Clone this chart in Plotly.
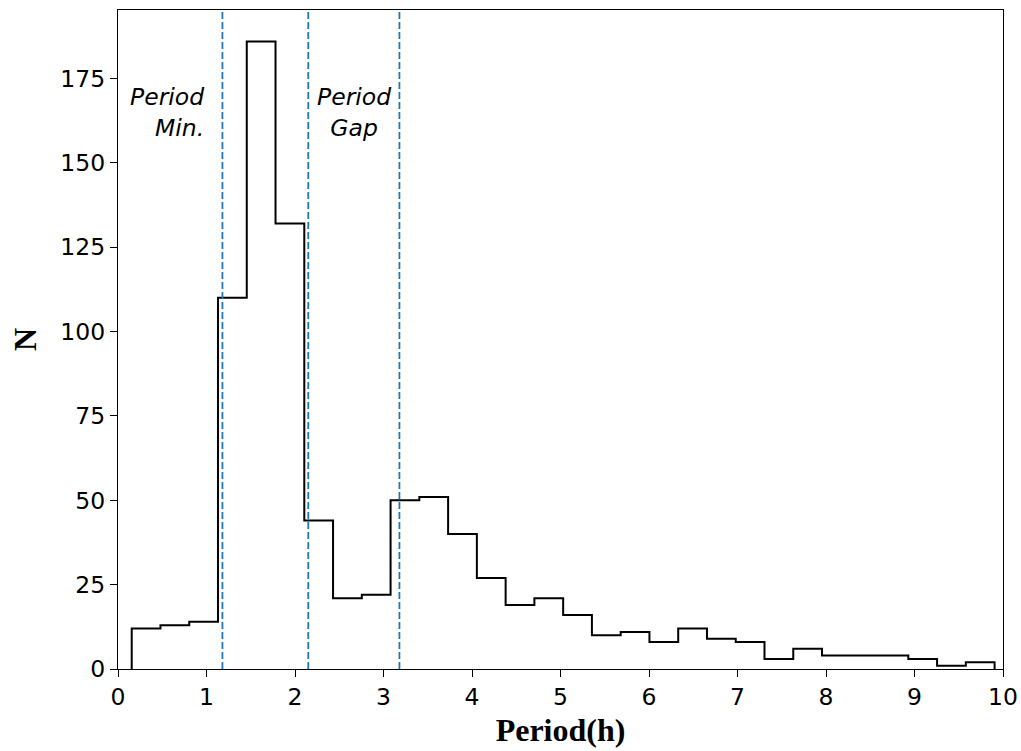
import plotly.graph_objects as go

# Orbital period histogram: 30 equal-width bins
bin_start = 0.155
bin_width = 0.325
counts = [12, 13, 14, 110, 186, 132, 44, 21, 22, 50,
          51, 40, 27, 19, 21, 16, 10, 11, 8, 12,
          9, 8, 3, 6, 4, 4, 4, 3, 1, 2]

# Reference periods marked with dashed lines (hours)
period_min = 1.18
gap_lower = 2.15
gap_upper = 3.18

x_ticks = list(range(0, 11))
y_ticks = [0, 25, 50, 75, 100, 125, 150, 175]

edges = [bin_start + i * bin_width for i in range(len(counts) + 1)]

# Step outline: rise at first edge, follow counts, drop at last edge
step_x = [edges[0]] + edges[:-1] + [edges[-1], edges[-1]]
step_y = [0] + counts + [counts[-1], 0]

fig = go.Figure()
fig.add_trace(go.Scatter(
    x=step_x, y=step_y, mode="lines", line_shape="hv",
    line=dict(color="black", width=2), showlegend=False, hoverinfo="skip",
))

for xv in (period_min, gap_lower, gap_upper):
    fig.add_shape(type="line", x0=xv, x1=xv, y0=0, y1=1, xref="x", yref="paper",
                  line=dict(color="#1f77b4", width=1.8, dash="7px,3px"))

label_font = dict(family="DejaVu Sans", size=23.5, color="black", style="italic")
fig.add_annotation(x=1.0, y=165, xref="x", yref="y", text="Period<br>Min.",
                   showarrow=False, xanchor="right", yanchor="middle",
                   align="right", font=label_font)
fig.add_annotation(x=2.67, y=165, xref="x", yref="y", text="Period<br>Gap",
                   showarrow=False, xanchor="center", yanchor="middle",
                   align="center", font=label_font)

tick_font = dict(family="DejaVu Sans", size=23.5, color="black")
title_font = dict(family="Liberation Serif", size=32, color="black", weight="bold")

fig.update_layout(
    width=1021, height=751,
    margin=dict(l=118, r=18, t=10, b=82),
    plot_bgcolor="white", paper_bgcolor="white",
    xaxis=dict(range=[0, 10], tickvals=x_ticks, ticks="outside", ticklen=7,
               tickwidth=1.3, tickcolor="black", showline=True, linecolor="black",
               linewidth=1.3, mirror=True, showgrid=False, zeroline=False,
               tickfont=tick_font, automargin=False,
               title=dict(text="Period(h)", font=title_font, standoff=8)),
    yaxis=dict(range=[0, 195.3], tickvals=y_ticks, ticks="outside", ticklen=7,
               tickwidth=1.3, tickcolor="black", showline=True, linecolor="black",
               linewidth=1.3, mirror=True, showgrid=False, zeroline=False,
               tickfont=tick_font, automargin=False,
               title=dict(text="N", font=title_font, standoff=14)),
)

fig.write_html("out.html")
